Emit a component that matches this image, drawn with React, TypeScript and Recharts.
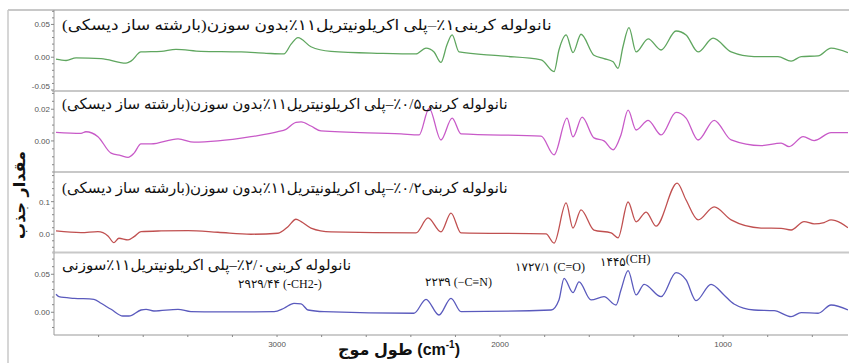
import React from "react";
import { LineChart, Line, XAxis, YAxis } from "recharts";

const W = 849;
const X_DOMAIN: [number, number] = [440, 4000];
const X_MAJOR = [3000, 2000, 1000];
const X_MINOR = [3800, 3600, 3400, 3200, 2800, 2600, 2400, 2200, 1800, 1600, 1400, 1200, 800, 600];

// [wavenumber cm-1, absorbance]
const cnt1 = [
  [3991, -0.003], [3946, -0.005], [3901, -0.001], [3789, -0.002], [3677, -0.009], [3655, -0.006],
  [3610, 0.008], [3520, 0.009], [3453, 0.012], [3341, 0.009], [3161, 0.008], [3049, 0.006],
  [2969, 0.005], [2937, 0.02], [2906, 0.03], [2848, 0.016], [2758, 0.009], [2534, 0.006],
  [2377, 0.005], [2332, 0.014], [2296, 0.008], [2265, -0.008], [2238, 0.019], [2215, 0.034],
  [2184, 0.008], [1996, 0.002], [1816, -0.004], [1758, -0.022], [1736, 0.011], [1704, 0.034],
  [1673, 0.007], [1637, 0.035], [1579, 0.003], [1534, -0.002], [1493, -0.007], [1471, -0.017],
  [1449, 0.016], [1422, 0.045], [1390, 0.008], [1336, 0.028], [1278, 0.011], [1211, 0.04],
  [1166, 0.034], [1112, 0.008], [1045, 0.029], [964, 0.008], [861, 0.001], [754, 0.001],
  [695, -0.006], [650, 0.001], [574, 0.002], [516, 0.014], [440, 0.007],
];

const cnt05 = [
  [3991, 0.0054], [3879, 0.0048], [3857, 0.0058], [3803, 0.0027], [3744, -0.0077], [3700, -0.0092],
  [3668, -0.0104], [3641, -0.0077], [3610, -0.0019], [3565, -0.0019], [3444, 0.0013], [3372, -0.0008],
  [3265, 0], [3117, 0.0027], [2996, 0.0058], [2960, 0.0073], [2915, 0.0117], [2892, 0.012],
  [2848, 0.0094], [2803, 0.0063], [2444, 0.0044], [2363, 0.0038], [2318, 0.0206], [2265, 0.0006],
  [2215, 0.0144], [2175, 0.0044], [1816, 0.003], [1758, -0.0088], [1700, 0.0144], [1673, 0.0025],
  [1632, 0.015], [1579, 0.0019], [1534, 0], [1493, -0.0056], [1458, 0.0038], [1426, 0.0194],
  [1390, 0.0069], [1336, 0.013], [1278, 0.0038], [1211, 0.018], [1166, 0.0144], [1112, 0.0006],
  [1040, 0.013], [964, 0.0006], [830, -0.003], [740, -0.0014], [704, -0.0036], [641, 0.0027],
  [592, 0.0002], [516, 0.0052], [440, 0.0052],
];

const cnt02 = [
  [3991, 0.0101], [3879, 0.0049], [3803, 0.008], [3758, -0.0052], [3731, -0.0258], [3709, -0.0123],
  [3668, -0.0175], [3641, -0.0074], [3610, 0.008], [3520, 0.0101], [3399, 0.011], [3265, 0.0061],
  [3117, 0], [2996, 0.0031], [2951, 0.0233], [2915, 0.046], [2892, 0.0387], [2848, 0.019],
  [2758, 0.007], [2377, 0.004], [2323, 0.05], [2265, 0.007], [2220, 0.065], [2175, 0.004],
  [1794, 0.001], [1758, -0.027], [1704, 0.096], [1673, 0.019], [1637, 0.075], [1579, 0.013],
  [1502, 0.004], [1471, -0.011], [1426, 0.099], [1390, 0.038], [1345, 0.068], [1301, 0.025],
  [1206, 0.157], [1166, 0.105], [1112, 0.044], [1040, 0.084], [964, 0.044], [830, 0.019],
  [740, 0.018], [695, 0.013], [637, 0.039], [592, 0.032], [547, 0.036], [516, 0.044],
  [471, 0.034], [440, 0.02],
];

const cnt02n = [
  [3991, 0.0237], [3978, 0.0205], [3910, 0.0184], [3821, 0.0171], [3789, 0.0118], [3744, 0.0039],
  [3691, -0.0049], [3664, -0.0049], [3610, 0.003], [3587, 0.0039], [3552, 0.0017], [3444, 0.0039],
  [3386, 0.0008], [3265, 0.0004], [3013, 0.0008], [2969, 0.0053], [2924, 0.0118], [2892, 0.011],
  [2861, 0.003], [2789, 0.0008], [2386, -0.0013], [2332, 0.0171], [2274, -0.0036], [2220, 0.0184],
  [2175, 0.0008], [1771, 0.003], [1736, 0.0162], [1713, 0.0447], [1673, 0.0258], [1646, 0.04],
  [1592, 0.0162], [1534, 0.0205], [1480, 0.0096], [1458, 0.0293], [1426, 0.0547], [1390, 0.0228],
  [1354, 0.0368], [1278, 0.0205], [1211, 0.0521], [1166, 0.0425], [1121, 0.0153], [1054, 0.0368],
  [996, 0.0228], [951, 0.0109], [861, 0.003], [771, 0.0021], [695, -0.0058], [650, -0.0005],
  [574, -0.0013], [516, 0.0096], [440, 0.003],
];

const LABELS = [
  "نانولوله کربنی۱٪–پلی اکریلونیتریل۱۱٪بدون سوزن(بارشته ساز دیسکی)",
  "نانولوله کربنی۰/۵٪–پلی اکریلونیتریل۱۱٪بدون سوزن(بارشته ساز دیسکی)",
  "نانولوله کربنی۰/۲٪–پلی اکریلونیتریل۱۱٪بدون سوزن(بارشته ساز دیسکی)",
  "نانولوله کربنی۲/۰٪–پلی اکریلونیتریل۱۱٪سوزنی",
];

const toRows = (pts: number[][]) => pts.map(([wn, a]) => ({ wn, a }));

const TICK_FONT = "'Liberation Sans', Arial, sans-serif";
const TEXT_FONT = "'Liberation Serif', 'DejaVu Sans', serif";

const XTick = (props: any) => {
  const { x, y, payload } = props;
  const isMajor = X_MAJOR.includes(payload.value);
  return (
    <g>
      <line x1={x} x2={x} y1={y} y2={y + 2} stroke="#888" />
      {isMajor && (
        <text x={x} y={y + 12} textAnchor="middle" fontSize={8} fill="#555" fontFamily={TICK_FONT}>
          {payload.value}
        </text>
      )}
    </g>
  );
};

const YTick = (props: any) => {
  const { x, y, payload, major, digits, lo } = props;
  const isMajor = major.some((m: number) => Math.abs(m - payload.value) < 1e-9);
  // the lowest label sits just above the panel's bottom edge
  const ty = Math.abs(payload.value - lo) < 1e-9 ? y - 1 : y + 3;
  return (
    <g>
      <line x1={x} x2={x - (isMajor ? 3 : 2)} y1={y} y2={y} stroke="#888" />
      {isMajor && (
        <text x={x - 4} y={ty} textAnchor="end" fontSize={8} fill="#555" fontFamily={TICK_FONT}>
          {payload.value.toFixed(digits)}
        </text>
      )}
    </g>
  );
};

type PanelProps = {
  top: number;
  height: number;
  pts: number[][];
  color: string;
  domain: [number, number];
  major: number[];
  minor: number[];
  digits: number;
  showX?: boolean;
};

function Panel({ top, height, pts, color, domain, major, minor, digits, showX }: PanelProps) {
  return (
    <div style={{ position: "absolute", left: 0, top }}>
      <LineChart width={W} height={height} data={toRows(pts)} margin={{ top: 0, right: 1, bottom: 0, left: 0 }}>
        <XAxis
          type="number"
          dataKey="wn"
          domain={X_DOMAIN}
          reversed
          allowDataOverflow
          hide={!showX}
          ticks={[...X_MAJOR, ...X_MINOR]}
          interval={0}
          height={28}
          tickSize={0}
          tickMargin={0}
          tickLine={false}
          axisLine={{ stroke: "#999" }}
          tick={XTick}
        />
        <YAxis
          type="number"
          domain={domain}
          allowDataOverflow
          ticks={[...major, ...minor]}
          interval={0}
          width={54}
          tickSize={0}
          tickMargin={0}
          tickLine={false}
          axisLine={{ stroke: "#999" }}
          tick={(p: any) => <YTick {...p} major={major} digits={digits} lo={domain[0]} />}
        />
        <Line type="monotone" dataKey="a" stroke={color} strokeWidth={1.3} dot={false} isAnimationActive={false} />
      </LineChart>
    </div>
  );
}

const abs = (left: number, top: number, extra: React.CSSProperties = {}): React.CSSProperties => ({
  position: "absolute",
  left,
  top,
  whiteSpace: "nowrap",
  lineHeight: 1,
  fontFamily: TEXT_FONT,
  color: "#111",
  ...extra,
});

export default function App() {
  return (
    <div style={{ position: "fixed", left: 0, top: 0, width: W, height: 363, background: "#fff", overflow: "hidden" }}>
      <style>{".recharts-surface { overflow: visible; }"}</style>
      {/* frame + panel separators */}
      <svg width={W} height={363} style={{ position: "absolute", left: 0, top: 0 }}>
        <line x1={8} x2={W} y1={10} y2={10} stroke="#c8c8c8" strokeWidth={2} />
        <line x1={8} x2={8} y1={10} y2={363} stroke="#c8c8c8" strokeWidth={1.5} />
        <line x1={52} x2={W} y1={91} y2={91} stroke="#c8c8c8" strokeWidth={2} />
        <line x1={52} x2={W} y1={172} y2={172} stroke="#c8c8c8" strokeWidth={2} />
        <line x1={52} x2={W} y1={252.5} y2={252.5} stroke="#c8c8c8" strokeWidth={2} />
      </svg>

      <Panel top={10} height={80} pts={cnt1} color="#5fa65f" domain={[-0.05, 0.072]}
        major={[0.05, 0, -0.05]} minor={[0.07, 0.06, 0.04, 0.03, 0.02, 0.01, -0.01, -0.02, -0.03, -0.04]} digits={2} />
      <Panel top={91} height={81} pts={cnt05} color="#c85ac8" domain={[-0.0196, 0.0315]}
        major={[0.02, 0]} minor={[0.03, 0.025, 0.015, 0.01, 0.005, -0.005, -0.01, -0.015]} digits={2} />
      <Panel top={172} height={80.5} pts={cnt02} color="#c05050" domain={[-0.056, 0.191]}
        major={[0.1, 0]} minor={[0.18, 0.16, 0.14, 0.12, 0.08, 0.06, 0.04, 0.02, -0.02, -0.04]} digits={1} />
      <Panel top={253} height={110} pts={cnt02n} color="#5a5abd" domain={[-0.0299, 0.078]}
        major={[0.05, 0]} minor={[0.07, 0.06, 0.04, 0.03, 0.02, 0.01, -0.01, -0.02]} digits={2} showX />

      {/* panel labels */}
      <div dir="rtl" style={abs(62, 18, { fontSize: 15, transform: "scaleX(1.13)", transformOrigin: "left center" })}>{LABELS[0]}</div>
      <div dir="rtl" style={abs(62, 97, { fontSize: 15 })}>{LABELS[1]}</div>
      <div dir="rtl" style={abs(62, 181, { fontSize: 15 })}>{LABELS[2]}</div>
      <div dir="rtl" style={abs(62, 258, { fontSize: 15 })}>{LABELS[3]}</div>

      {/* band annotations */}
      <div style={abs(238, 278, { fontSize: 12 })}>۲۹۲۹/۴۴ (-CH2-)</div>
      <div style={abs(425, 276, { fontSize: 12 })}>۲۲۳۹ (−C≡N)</div>
      <div style={abs(515, 261, { fontSize: 12 })}>۱۷۲۷/۱ (C=O)</div>
      <div style={abs(600, 256, { fontSize: 12 })}>
        ۱۴۴۵<span style={{ position: "relative", top: -3 }}>(CH)</span>
      </div>

      {/* axis titles */}
      <div style={abs(20, 195, { fontSize: 16, fontWeight: "bold", transform: "translate(-50%, -50%) rotate(-90deg)", fontFamily: "'DejaVu Sans', sans-serif" })}>
        مقدار جذب
      </div>
      <div style={abs(399, 349, { fontSize: 16, fontWeight: "bold", transform: "translate(-50%, -50%)", fontFamily: "'Liberation Sans', 'DejaVu Sans', sans-serif" })}>
        طول موج (cm<sup style={{ fontSize: 10 }}>-1</sup>)
      </div>
    </div>
  );
}
